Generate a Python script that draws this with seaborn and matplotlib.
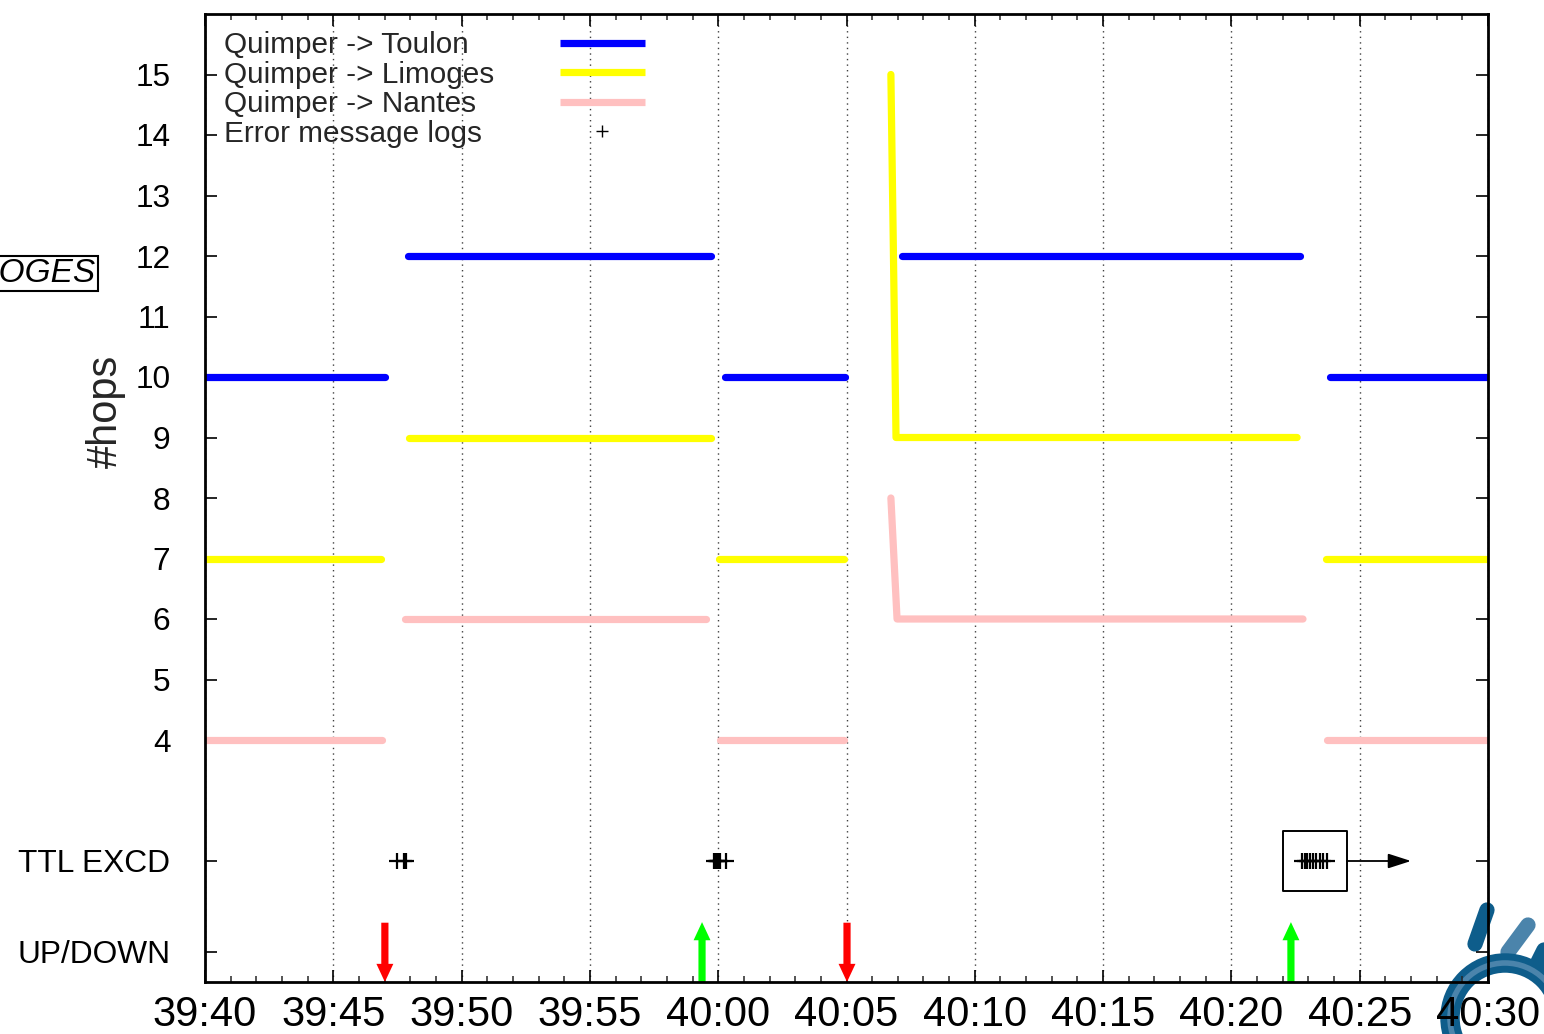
import numpy as np
import pandas as pd
import seaborn as sns
import matplotlib
matplotlib.use("Agg")
import matplotlib.pyplot as plt
from matplotlib.lines import Line2D
from matplotlib.patches import Rectangle, Ellipse
from matplotlib.ticker import MultipleLocator

# ---------------- data (time in seconds after 39:40) ----------------
routes = ["Quimper -> Toulon", "Quimper -> Limoges", "Quimper -> Nantes"]
route_colors = ["#0000ff", "#ffff00", "#ffc0c0"]

toulon_t = [0.0, 7.01, 7.91, 19.72, 20.26, 24.94, 27.16, 42.67, 43.84, 50.0]
toulon_hops = [10, 10, 12, 12, 10, 10, 12, 12, 10, 10]
toulon_seg = [0, 0, 1, 1, 2, 2, 3, 3, 4, 4]

limoges_t = [0.0, 6.86, 7.95, 19.72, 20.03, 24.90, 26.73, 26.93, 42.56, 43.69, 50.0]
limoges_hops = [7, 7, 9, 9, 7, 7, 15, 9, 9, 7, 7]
limoges_seg = [0, 0, 1, 1, 2, 2, 3, 3, 3, 4, 4]

nantes_t = [0.0, 6.90, 7.79, 19.52, 20.07, 24.90, 26.73, 26.97, 42.79, 43.73, 50.0]
nantes_hops = [4, 4, 6, 6, 4, 4, 8, 6, 6, 4, 4]
nantes_seg = [0, 0, 1, 1, 2, 2, 3, 3, 3, 4, 4]

ttl_level = 2.0
ttl_times = [7.48, 7.76, 7.83,
             19.84, 19.92, 19.95, 19.99, 20.07, 20.30,
             42.75, 42.87, 42.95, 43.06, 43.18, 43.30, 43.45, 43.57, 43.73]

updown_level = 0.0
down_times = [7.01, 25.02]
up_times = [19.37, 42.32]

x_ticks = [0, 5, 10, 15, 20, 25, 30, 35, 40, 45, 50]
x_ticklabels = ["39:40", "39:45", "39:50", "39:55", "40:00", "40:05",
                "40:10", "40:15", "40:20", "40:25", "40:30"]
y_ticks = [0.5, 2, 4, 5, 6, 7, 8, 9, 10, 11, 12, 13, 14, 15]
y_ticklabels = ["UP/DOWN", "TTL EXCD", "4", "5", "6", "7", "8", "9",
                "10", "11", "12", "13", "14", "15"]

# ---------------- build table ----------------
frames = []
for name, t, h, s in [(routes[0], toulon_t, toulon_hops, toulon_seg),
                      (routes[1], limoges_t, limoges_hops, limoges_seg),
                      (routes[2], nantes_t, nantes_hops, nantes_seg)]:
    frames.append(pd.DataFrame({"t": t, "hops": h, "seg": s, "route": name}))
df = pd.concat(frames, ignore_index=True)

# ---------------- style ----------------
sns.set_style("white")
plt.rcParams["font.family"] = ["Liberation Sans", "DejaVu Sans"]

W, H = 1544, 1034
fig = plt.figure(figsize=(W / 100, H / 100), dpi=100)
fig.patch.set_facecolor("white")
ax = fig.add_axes([205 / W, 1 - 982 / H, 1283 / W, 968 / H])
ax.set_facecolor("none")

# vertical dotted grid
ax.xaxis.grid(True, which="major", linestyle=(0, (1, 3)), color="0.25", linewidth=1.0)
ax.yaxis.grid(False)
ax.set_axisbelow(True)

palette = dict(zip(routes, route_colors))
sns.lineplot(data=df, x="t", y="hops", hue="route", units="seg", estimator=None,
             palette=palette, linewidth=5.2, solid_capstyle="round",
             solid_joinstyle="round", sort=False, legend=False, ax=ax, zorder=3)

# error message logs
sns.scatterplot(x=ttl_times, y=[ttl_level] * len(ttl_times), marker="+", s=130,
                color="black", linewidth=1.6, ax=ax, zorder=4, legend=False)

# up / down arrows
for t in down_times:
    ax.arrow(t, updown_level + 0.98, 0, -0.98, width=0.28, head_width=0.66,
             head_length=0.3, length_includes_head=True, color="#ff0000",
             lw=0, zorder=4)
for t in up_times:
    ax.arrow(t, updown_level, 0, 0.99, width=0.28, head_width=0.66,
             head_length=0.3, length_includes_head=True, color="#00ff00",
             lw=0, zorder=4)

# box and arrow around last group of error logs
ax.add_patch(Rectangle((42.0, 1.5), 2.5, 1.0, fill=False, ec="black", lw=1.4,
                       joinstyle="round", zorder=5))
ax.annotate("", xy=(47.0, ttl_level), xytext=(44.5, ttl_level),
            arrowprops=dict(arrowstyle="-|>,head_length=1.4,head_width=0.45",
                            color="black", lw=1.3, shrinkA=0, shrinkB=0,
                            mutation_scale=10), zorder=5)

# axes limits and ticks
ax.set_xlim(0, 50)
ax.set_ylim(0, 16)
ax.set_xticks(x_ticks)
ax.set_xticklabels(x_ticklabels)
ax.xaxis.set_minor_locator(MultipleLocator(1))
ax.set_yticks(y_ticks)
ax.set_yticklabels(y_ticklabels)
ax.tick_params(axis="x", which="major", direction="in", length=8.5, width=1.2,
               top=True, bottom=True, labelsize=30, pad=9, colors="black")
ax.tick_params(axis="x", which="minor", direction="in", length=4.3, width=1.1,
               top=True, bottom=True)
ax.tick_params(axis="y", which="major", direction="in", length=8.5, width=1.2,
               left=True, right=True, labelsize=22.8, pad=25, colors="black")
for sp in ax.spines.values():
    sp.set_visible(True)
    sp.set_color("black")
    sp.set_linewidth(2.0)
    sp.set_zorder(6)

ax.set_xlabel("")
ax.set_ylabel("#hops", fontsize=30)
ax.yaxis.set_label_coords(-0.062, 0.59)

# ---------------- legend (gnuplot style: text left, sample right) ----------------
leg_labels = routes + ["Error message logs"]
text_handles = [Line2D([], [], alpha=0) for _ in leg_labels]
leg1 = ax.legend(text_handles, leg_labels, loc="upper left",
                 bbox_to_anchor=(0.0145, 0.9825), frameon=False, fontsize=21.4,
                 handlelength=0, handletextpad=0, borderpad=0, borderaxespad=0,
                 labelspacing=0.055)
ax.add_artist(leg1)
sample_handles = [Line2D([], [], color=c, lw=5.2, solid_capstyle="butt") for c in route_colors]
sample_handles.append(Line2D([], [], color="black", marker="+", ls="none", ms=9, mew=1.0))
leg2 = ax.legend(sample_handles, [""] * 4, loc="upper left",
                 bbox_to_anchor=(0.2767, 0.9825), frameon=False, fontsize=21.4,
                 handlelength=2.85, handletextpad=0, borderpad=0, borderaxespad=0,
                 labelspacing=0.055)

# ---------------- side label (cut at the left edge, as in the original) ----------------
fig.text(96 / W, 1 - 273 / H, "LIMOGES", ha="right", va="center", style="italic",
         fontsize=24, color="black",
         bbox=dict(boxstyle="square,pad=0.06", fc="white", ec="black", lw=1.5))

# ---------------- logo (bottom right, behind axes) ----------------
def fx(px):
    return px / W

def fy(py):
    return 1 - py / H

dark = "#0e5d8b"
light = "#4b84ab"
fig.add_artist(Line2D([fx(1487), fx(1475)], [fy(910), fy(944)], lw=11,
                      color=dark, solid_capstyle="round", zorder=-1))
fig.add_artist(Line2D([fx(1528), fx(1508)], [fy(925), fy(952)], lw=11,
                      color=light, solid_capstyle="round", zorder=-1))
fig.add_artist(Line2D([fx(1544), fx(1538)], [fy(950), fy(962)], lw=11,
                      color=dark, solid_capstyle="round", zorder=-1))
fig.add_artist(Ellipse((fx(1505), fy(1018)), 110 / W, 110 / H,
                       transform=fig.transFigure, fill=False, ec=dark, lw=14,
                       zorder=-1))
fig.add_artist(Ellipse((fx(1505), fy(1018)), 110 / W, 110 / H,
                       transform=fig.transFigure, fill=False, ec=light, lw=4,
                       zorder=-1))

fig.savefig("out.png", dpi=100, facecolor="white")
